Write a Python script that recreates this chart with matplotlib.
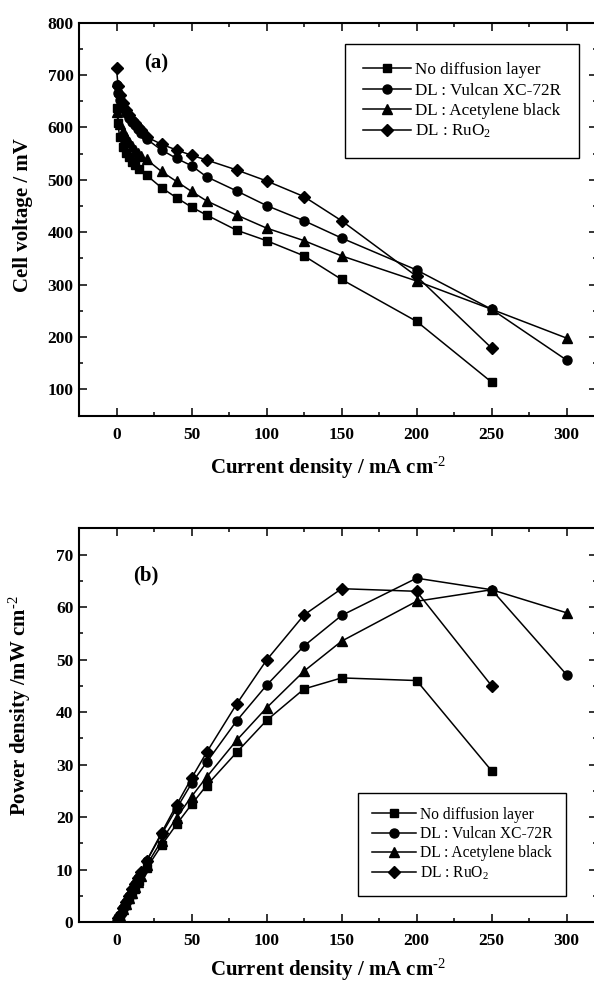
import matplotlib
matplotlib.use("Agg")
import matplotlib.pyplot as plt
from matplotlib.ticker import MultipleLocator

plt.rcParams['font.family'] = ['Liberation Serif', 'DejaVu Serif']
plt.rcParams['mathtext.fontset'] = 'custom'
plt.rcParams['mathtext.rm'] = 'Liberation Serif'
plt.rcParams['mathtext.default'] = 'regular'

# Series labels and markers
labels = ["No diffusion layer", "DL : Vulcan XC-72R", "DL : Acetylene black", "DL : RuO$_2$"]
markers = ["s", "o", "^", "D"]
msizes = [6.0, 6.5, 7.5, 5.8]

# Current density (mA cm-2) for each sample
sq_i = [0, 1, 2, 4, 6, 8, 10, 12, 15, 20, 30, 40, 50, 60, 80, 100, 125, 150, 200, 250]
ci_i = [0, 1, 2, 4, 6, 8, 10, 12, 14, 16, 20, 30, 40, 50, 60, 80, 100, 125, 150, 200, 250, 300]
tr_i = [0, 2, 4, 6, 8, 10, 12, 14, 16, 20, 30, 40, 50, 60, 80, 100, 125, 150, 200, 250, 300]
di_i = [0, 1, 2, 4, 6, 8, 10, 12, 14, 16, 20, 30, 40, 50, 60, 80, 100, 125, 150, 200, 250]

# (a) cell voltage, mV
sq_v = [637, 608, 582, 562, 552, 543, 535, 528, 520, 509, 485, 466, 448, 433, 404, 384, 355, 310, 230, 114]
ci_v = [681, 665, 652, 638, 628, 619, 611, 604, 597, 590, 578, 557, 541, 527, 506, 479, 451, 422, 389, 328, 253, 156]
tr_v = [630, 606, 594, 582, 572, 564, 557, 551, 546, 539, 516, 497, 478, 460, 433, 408, 384, 355, 307, 253, 198]
di_v = [713, 680, 662, 646, 634, 624, 615, 608, 601, 595, 582, 568, 557, 547, 538, 519, 498, 468, 422, 316, 179]

# (b) power density, mW cm-2
sq_p = [0, 0.6, 1.2, 2.2, 3.3, 4.3, 5.4, 6.3, 7.8, 10.2, 14.6, 18.6, 22.4, 26.0, 32.3, 38.4, 44.4, 46.5, 46.0, 28.8]
ci_p = [0, 0.7, 1.3, 2.6, 3.8, 5.0, 6.1, 7.2, 8.4, 9.4, 11.6, 16.7, 21.6, 26.4, 30.4, 38.3, 45.1, 52.6, 58.4, 65.5, 63.3, 47.1]
tr_p = [0, 1.2, 2.4, 3.5, 4.6, 5.6, 6.7, 7.7, 8.7, 10.8, 15.5, 19.9, 23.9, 27.6, 34.6, 40.8, 47.8, 53.5, 61.1, 63.3, 58.9]
di_p = [0, 0.7, 1.3, 2.6, 3.8, 5.0, 6.2, 7.3, 8.4, 9.5, 11.6, 17.0, 22.3, 27.4, 32.3, 41.5, 49.9, 58.5, 63.5, 63.0, 45.0]

currents = [sq_i, ci_i, tr_i, di_i]
voltages = [sq_v, ci_v, tr_v, di_v]
powers = [sq_p, ci_p, tr_p, di_p]

x_ticks = [0, 50, 100, 150, 200, 250, 300]
sup = r"$^{\text{-2}}$"


def style_axes(ax):
    for sp in ax.spines.values():
        sp.set_linewidth(1.5)
    ax.tick_params(which='both', direction='in', top=True, right=True, width=1.1)
    ax.tick_params(which='major', length=5.5, pad=8, labelsize=12.5)
    ax.tick_params(axis='y', which='major', pad=4)
    ax.tick_params(which='minor', length=3)
    for lab in ax.get_xticklabels() + ax.get_yticklabels():
        lab.set_fontweight('bold')


def draw_series(ax, ys):
    for xs, vals, m, ms, lab in zip(currents, ys, markers, msizes, labels):
        ax.plot(xs, vals, color='black', lw=1.1, marker=m, ms=ms, label=lab)


fig = plt.figure(figsize=(5.94, 9.82), dpi=100)

# --- (a) polarisation curves
ax1 = fig.add_axes([0.133, 0.5767, 0.8715, 0.4002])
draw_series(ax1, voltages)
ax1.set_xlim(-25, 320)
ax1.set_ylim(50, 800)
ax1.set_xticks(x_ticks)
ax1.xaxis.set_minor_locator(MultipleLocator(25))
ax1.yaxis.set_major_locator(MultipleLocator(100))
ax1.yaxis.set_minor_locator(MultipleLocator(50))
ax1.set_yticks([100, 200, 300, 400, 500, 600, 700, 800])
style_axes(ax1)
ax1.set_xlabel("Current density / mA cm" + sup, fontsize=15, fontweight='bold')
ax1.set_ylabel("Cell voltage / mV", fontsize=15, fontweight='bold')
ax1.xaxis.set_label_coords(0.482, -0.10)
ax1.yaxis.set_label_coords(-0.088, 0.51)
ax1.text(0.149, 0.895, "(a)", transform=ax1.transAxes, fontsize=15,
         fontweight='bold', ha='center', va='center')
leg1 = ax1.legend(loc='upper right', bbox_to_anchor=(0.966, 0.945), fontsize=12.3,
                  frameon=True, fancybox=False, edgecolor='black', framealpha=1,
                  handlelength=2.8, handletextpad=0.25, labelspacing=0.25,
                  borderpad=1.05, borderaxespad=0)
leg1.get_frame().set_linewidth(1.0)

# --- (b) power density curves
ax2 = fig.add_axes([0.133, 0.0611, 0.8715, 0.4009])
draw_series(ax2, powers)
ax2.set_xlim(-25, 320)
ax2.set_ylim(0, 75)
ax2.set_xticks(x_ticks)
ax2.xaxis.set_minor_locator(MultipleLocator(25))
ax2.yaxis.set_major_locator(MultipleLocator(10))
ax2.yaxis.set_minor_locator(MultipleLocator(5))
ax2.set_yticks([0, 10, 20, 30, 40, 50, 60, 70])
style_axes(ax2)
ax2.set_xlabel("Current density / mA cm" + sup, fontsize=15, fontweight='bold')
ax2.set_ylabel("Power density /mW cm" + sup, fontsize=15, fontweight='bold')
ax2.xaxis.set_label_coords(0.482, -0.088)
ax2.yaxis.set_label_coords(-0.088, 0.55)
ax2.text(0.129, 0.879, "(b)", transform=ax2.transAxes, fontsize=15,
         fontweight='bold', ha='center', va='center')
leg2 = ax2.legend(loc='upper right', bbox_to_anchor=(0.941, 0.328), fontsize=11.2,
                  frameon=True, fancybox=False, edgecolor='black', framealpha=1,
                  handlelength=2.8, handletextpad=0.25, labelspacing=0.2,
                  borderpad=0.9, borderaxespad=0)
leg2.get_frame().set_linewidth(1.0)

fig.savefig("out.png", dpi=100)
